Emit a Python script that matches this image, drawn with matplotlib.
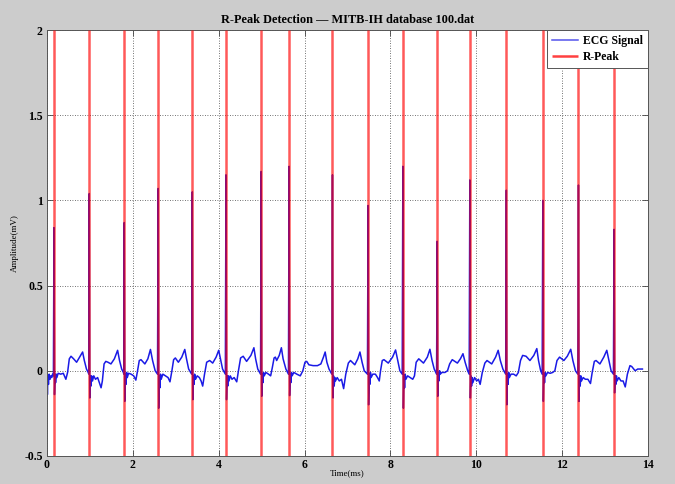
import matplotlib
matplotlib.use('Agg')
import matplotlib.pyplot as plt

# R-peak positions (s) picked by the detector
r_peak_times = [0.163, 0.985, 1.80, 2.59, 3.385, 4.17, 4.99, 5.64, 6.65,
                7.48, 8.29, 9.09, 9.85, 10.70, 11.55, 12.38, 13.21]

# ECG trace, one line per beat (time, amplitude)
ecg_time = [
    0.00, 0.01, 0.02, 0.035, 0.05, 0.07, 0.09, 0.11, 0.13, 0.15,
    0.163, 0.175, 0.19, 0.20, 0.215, 0.23, 0.26, 0.32, 0.38, 0.44, 0.48, 0.52, 0.56, 0.62, 0.69, 0.76, 0.83, 0.87, 0.92, 0.96, 0.975,
    0.985, 0.997, 1.01, 1.025, 1.04, 1.06, 1.09, 1.13, 1.18, 1.22, 1.26, 1.29, 1.33, 1.37, 1.42, 1.49, 1.57, 1.645, 1.69, 1.74, 1.78, 1.79,
    1.80, 1.812, 1.825, 1.84, 1.855, 1.87, 1.90, 1.96, 2.02, 2.07, 2.11, 2.15, 2.19, 2.28, 2.35, 2.41, 2.46, 2.52, 2.575,
    2.59, 2.602, 2.615, 2.63, 2.645, 2.66, 2.70, 2.76, 2.82, 2.865, 2.91, 2.95, 2.99, 3.06, 3.14, 3.21, 3.25, 3.30, 3.37,
    3.385, 3.397, 3.41, 3.425, 3.44, 3.46, 3.50, 3.55, 3.59, 3.627, 3.67, 3.72, 3.79, 3.86, 3.94, 4.00, 4.05, 4.09, 4.155,
    4.17, 4.182, 4.195, 4.21, 4.225, 4.24, 4.27, 4.31, 4.36, 4.42, 4.46, 4.51, 4.57, 4.65, 4.75, 4.82, 4.86, 4.91, 4.975,
    4.99, 5.002, 5.015, 5.03, 5.045, 5.06, 5.10, 5.16, 5.21, 5.25, 5.29, 5.32, 5.35, 5.41, 5.46, 5.50, 5.565, 5.625,
    5.64, 5.652, 5.665, 5.68, 5.695, 5.71, 5.75, 5.82, 5.90, 5.96, 6.01, 6.05, 6.10, 6.20, 6.30, 6.38, 6.44, 6.48, 6.52, 6.57, 6.635,
    6.65, 6.662, 6.675, 6.69, 6.705, 6.72, 6.76, 6.81, 6.86, 6.91, 6.96, 7.02, 7.07, 7.17, 7.24, 7.29, 7.34, 7.39, 7.465,
    7.48, 7.492, 7.505, 7.52, 7.535, 7.55, 7.59, 7.65, 7.70, 7.74, 7.77, 7.81, 7.85, 7.95, 8.05, 8.12, 8.17, 8.22, 8.275,
    8.29, 8.302, 8.315, 8.33, 8.345, 8.36, 8.40, 8.46, 8.52, 8.56, 8.60, 8.66, 8.77, 8.86, 8.92, 8.97, 9.02, 9.075,
    9.09, 9.102, 9.115, 9.13, 9.145, 9.16, 9.20, 9.27, 9.33, 9.38, 9.44, 9.56, 9.63, 9.69, 9.74, 9.80, 9.835,
    9.85, 9.862, 9.875, 9.89, 9.905, 9.92, 9.96, 10.01, 10.05, 10.09, 10.14, 10.20, 10.25, 10.36, 10.45, 10.51, 10.56, 10.62, 10.685,
    10.70, 10.712, 10.725, 10.74, 10.755, 10.77, 10.81, 10.87, 10.93, 10.98, 11.03, 11.08, 11.16, 11.25, 11.34, 11.41, 11.45, 11.50, 11.535,
    11.55, 11.562, 11.575, 11.59, 11.605, 11.62, 11.66, 11.72, 11.78, 11.83, 11.88, 11.94, 12.04, 12.12, 12.20, 12.25, 12.31, 12.365,
    12.38, 12.392, 12.405, 12.42, 12.435, 12.45, 12.49, 12.54, 12.60, 12.66, 12.70, 12.75, 12.79, 12.88, 12.97, 13.04, 13.09, 13.14, 13.195,
    13.21, 13.222, 13.235, 13.25, 13.265, 13.28, 13.32, 13.37, 13.42, 13.47, 13.52, 13.58, 13.62, 13.70, 13.76, 13.81, 13.87,
]
ecg_amp = [
    -0.03, -0.14, -0.04, -0.08, -0.02, -0.05, -0.03, -0.04, -0.02, -0.03,
    0.84, -0.14, -0.02, -0.07, -0.02, -0.04, -0.015, -0.02, -0.015, -0.05, -0.01, 0.07, 0.085, 0.07, 0.05, 0.08, 0.11, 0.06, 0.01, -0.01, -0.02,
    1.04, -0.16, -0.03, -0.09, -0.03, -0.06, -0.03, -0.05, -0.04, -0.07, -0.10, -0.06, 0.04, 0.055, 0.05, 0.04, 0.07, 0.12, 0.06, 0.01, -0.01, -0.02,
    0.87, -0.18, -0.02, -0.08, -0.01, -0.04, -0.015, -0.02, -0.03, -0.055, 0.0, 0.06, 0.065, 0.04, 0.07, 0.125, 0.06, 0.0, -0.02,
    1.07, -0.22, -0.03, -0.10, -0.02, -0.05, -0.02, -0.03, -0.04, -0.065, 0.0, 0.065, 0.075, 0.05, 0.08, 0.125, 0.07, 0.01, -0.02,
    1.05, -0.17, -0.03, -0.08, -0.02, -0.05, -0.03, -0.04, -0.06, -0.09, -0.02, 0.05, 0.06, 0.045, 0.08, 0.12, 0.06, 0.01, -0.02,
    1.15, -0.17, -0.03, -0.09, -0.03, -0.06, -0.03, -0.05, -0.04, -0.065, 0.0, 0.075, 0.085, 0.055, 0.09, 0.135, 0.07, 0.01, -0.02,
    1.17, -0.15, -0.02, -0.07, -0.01, -0.03, -0.01, -0.02, -0.03, 0.02, 0.075, 0.08, 0.06, 0.09, 0.135, 0.07, 0.01, -0.02,
    1.20, -0.146, -0.02, -0.07, -0.01, -0.03, -0.01, -0.02, -0.03, 0.0, 0.05, 0.055, 0.035, 0.03, 0.03, 0.04, 0.08, 0.11, 0.05, 0.01, -0.02,
    1.15, -0.16, -0.03, -0.09, -0.04, -0.06, -0.04, -0.06, -0.05, -0.105, -0.02, 0.045, 0.06, 0.035, 0.07, 0.11, 0.05, 0.0, -0.02,
    0.97, -0.20, -0.02, -0.08, -0.01, -0.04, -0.02, -0.02, -0.04, -0.06, 0.0, 0.06, 0.065, 0.045, 0.08, 0.122, 0.06, 0.0, -0.02,
    1.20, -0.22, -0.03, -0.10, -0.02, -0.05, -0.03, -0.04, -0.05, -0.03, 0.05, 0.07, 0.045, 0.08, 0.126, 0.06, 0.01, -0.02,
    0.76, -0.15, -0.01, -0.06, 0.0, -0.02, -0.01, -0.01, 0.0, 0.04, 0.065, 0.045, 0.07, 0.10, 0.05, 0.0, -0.02,
    1.12, -0.16, -0.03, -0.09, -0.04, -0.07, -0.04, -0.06, -0.05, -0.08, -0.01, 0.045, 0.06, 0.04, 0.08, 0.12, 0.06, 0.01, -0.02,
    1.06, -0.20, -0.02, -0.08, -0.01, -0.04, -0.02, -0.02, -0.03, -0.01, 0.06, 0.09, 0.085, 0.06, 0.09, 0.13, 0.06, 0.0, -0.02,
    1.00, -0.18, -0.02, -0.07, -0.01, -0.03, -0.01, -0.015, -0.01, 0.0, 0.06, 0.08, 0.06, 0.085, 0.126, 0.06, 0.0, -0.02,
    1.09, -0.18, -0.03, -0.09, -0.03, -0.06, -0.04, -0.05, -0.05, -0.075, -0.01, 0.055, 0.06, 0.04, 0.08, 0.12, 0.06, 0.0, -0.02,
    0.83, -0.13, -0.03, -0.08, -0.03, -0.06, -0.04, -0.06, -0.06, -0.095, -0.02, 0.03, 0.025, 0.0, 0.01, 0.01, 0.01,
]


def plot_data():
    plt.rcParams['font.family'] = ['Liberation Serif', 'DejaVu Serif']
    plt.rcParams['axes.unicode_minus'] = False

    fig = plt.figure(figsize=(6.75, 4.84), dpi=100, facecolor='#cccccc')
    ax = fig.add_axes([0.0696, 0.058, 0.8904, 0.88])
    ax.set_facecolor('white')

    ax.plot(ecg_time, ecg_amp, color='#1a1ae6', lw=1.1, label='ECG Signal', zorder=2)
    ax.vlines(r_peak_times, -0.5, 2, colors='red', lw=1.8, alpha=0.65,
              label='R-Peak', zorder=3)

    ax.set_xlim(0, 14)
    ax.set_ylim(-0.5, 2)
    ax.set_xticks(range(0, 15, 2))
    ax.set_yticks([-0.5, 0, 0.5, 1, 1.5, 2])
    ax.set_yticklabels(['-0.5', '0', '0.5', '1', '1.5', '2'])
    ax.tick_params(direction='in', length=4, width=0.6, top=True, right=True,
                   labelsize=8.5, color='#444444')
    ax.tick_params(axis='x', pad=2)
    ax.tick_params(axis='y', pad=3)
    for lab in ax.get_xticklabels() + ax.get_yticklabels():
        lab.set_fontweight('bold')
    ax.grid(True, linestyle=(0, (1, 2)), color='#444444', lw=0.6)
    for s in ax.spines.values():
        s.set_color('#555555')
        s.set_linewidth(0.7)

    ax.set_title('R-Peak Detection \u2014 MITB-IH database 100.dat',
                 fontsize=8.8, fontweight='bold', pad=5)
    ax.set_xlabel('Time(ms)', fontsize=6.5, labelpad=-1)
    ax.set_ylabel('Amplitude(mV)', fontsize=6.5, labelpad=4)

    leg = ax.legend(loc='upper right', borderaxespad=0, fancybox=False,
                    framealpha=1, edgecolor='#555555', handlelength=2.2,
                    prop={'weight': 'bold', 'size': 8.5}, borderpad=0.45,
                    labelspacing=0.3, handletextpad=0.4)
    leg.get_frame().set_linewidth(0.7)
    for h in leg.get_lines():
        h.set_alpha(0.75)

    fig.savefig('out.png', dpi=100, facecolor=fig.get_facecolor())


if __name__ == "__main__":
    plot_data()
